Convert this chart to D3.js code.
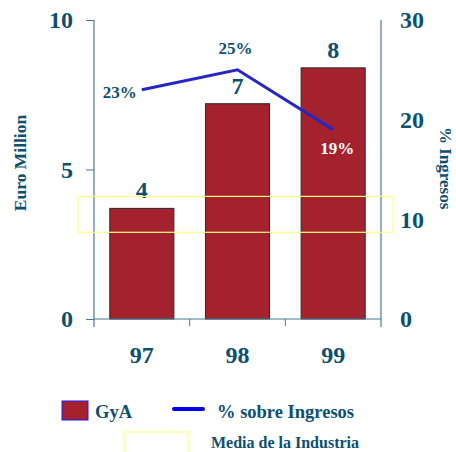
<!DOCTYPE html>
<html>
<head>
<meta charset="utf-8">
<script src="https://d3js.org/d3.v7.min.js"></script>
<style>
  body { margin: 0; background: #fff; }
  text { font-family: "Liberation Serif", "Times New Roman", serif; font-weight: bold; fill: #0d4f6f; }
</style>
</head>
<body>
<svg id="chart" width="456" height="452"></svg>
<script>
// data
var years = ["97", "98", "99"];
var gya = [3.7, 7.2, 8.4];            // Euro Million (bars)
var gyaLabels = ["4", "7", "8"];
var pctIngresos = [23, 25, 19];       // % sobre Ingresos (line)
var leftTicks = [0, 5, 10];
var rightTicks = [0, 10, 20, 30];
var industryBand = [8.7, 12.3];       // Media de la Industria, % range

var axisColor = "#4a7b94",
    barColor = "#a3222e",
    lineColor = "#2626c4",
    textColor = "#0d4f6f";

var svg = d3.select("#chart");

var x = d3.scaleBand().domain(years).range([94, 381]).paddingInner(0.33).paddingOuter(0.165),
    yL = d3.scaleLinear().domain([0, 10]).range([319, 20]),
    yR = d3.scaleLinear().domain([0, 30]).range([319, 20]);

// bars
svg.selectAll(".bar")
  .data(gya)
  .enter().append("rect")
    .attr("class", "bar")
    .attr("x", function(d, i) { return x(years[i]); })
    .attr("y", function(d) { return yL(d); })
    .attr("width", x.bandwidth())
    .attr("height", function(d) { return yL(0) - yL(d); })
    .attr("fill", barColor)
    .attr("stroke", "#2a2a2a")
    .attr("stroke-width", 1);

// bar value labels
svg.selectAll(".barlabel")
  .data(gya)
  .enter().append("text")
    .attr("x", function(d, i) { return x(years[i]) + x.bandwidth() / 2; })
    .attr("y", function(d) { return yL(d) - 10; })
    .attr("text-anchor", "middle")
    .style("font-size", "24px")
    .text(function(d, i) { return gyaLabels[i]; });

// left axis
var leftAxis = svg.append("g")
    .attr("transform", "translate(94,0)")
    .call(d3.axisLeft(yL).tickValues(leftTicks).tickSize(8).tickPadding(13));
leftAxis.select(".domain").remove();
leftAxis.selectAll(".tick line").attr("stroke", axisColor);
leftAxis.selectAll(".tick text")
    .attr("fill", textColor)
    .style("font-family", "'Liberation Serif', serif")
    .style("font-weight", "bold")
    .style("font-size", "24px");

// right axis
var rightAxis = svg.append("g")
    .attr("transform", "translate(381,0)")
    .call(d3.axisRight(yR).tickValues(rightTicks).tickSize(0).tickPadding(19));
rightAxis.select(".domain").remove();
rightAxis.selectAll(".tick text")
    .attr("fill", textColor)
    .style("font-family", "'Liberation Serif', serif")
    .style("font-weight", "bold")
    .style("font-size", "24px");

// axis lines
svg.append("line").attr("x1", 94).attr("x2", 94).attr("y1", yL(10)).attr("y2", yL(0) + 8)
    .attr("stroke", axisColor).attr("stroke-width", 1.2);
svg.append("line").attr("x1", 381).attr("x2", 381).attr("y1", yR(30)).attr("y2", yR(0) + 8)
    .attr("stroke", axisColor).attr("stroke-width", 1.2);
svg.append("line").attr("x1", 94).attr("x2", 381).attr("y1", yL(0)).attr("y2", yL(0))
    .attr("stroke", axisColor).attr("stroke-width", 1.2);

// category separators below the baseline
svg.selectAll(".xtick")
  .data(years.slice(1))
  .enter().append("line")
    .attr("x1", function(d) { return x(d) - x.step() * x.paddingInner() / 2; })
    .attr("x2", function(d) { return x(d) - x.step() * x.paddingInner() / 2; })
    .attr("y1", yL(0))
    .attr("y2", yL(0) + 7)
    .attr("stroke", axisColor);

// x labels
svg.selectAll(".xlabel")
  .data(years)
  .enter().append("text")
    .attr("x", function(d) { return x(d) + x.bandwidth() / 2; })
    .attr("y", 363)
    .attr("text-anchor", "middle")
    .style("font-size", "24px")
    .text(function(d) { return d; });

// industry average band
svg.append("rect")
    .attr("x", 78)
    .attr("y", yR(industryBand[1]))
    .attr("width", 315)
    .attr("height", yR(industryBand[0]) - yR(industryBand[1]))
    .attr("fill", "none")
    .attr("stroke", "#ffff88")
    .attr("stroke-width", 1.2);

// % line
var line = d3.line()
    .x(function(d, i) { return x(years[i]) + x.bandwidth() / 2; })
    .y(function(d) { return yR(d); });

svg.append("path")
    .datum(pctIngresos)
    .attr("d", line)
    .attr("fill", "none")
    .attr("stroke", lineColor)
    .attr("stroke-width", 3);

// % labels: left of first point, above second, below third (white on the bar)
var placement = [
  { dx: -5, dy: 8, anchor: "end", fill: textColor },
  { dx: -2, dy: -16, anchor: "middle", fill: textColor },
  { dx: 4, dy: 24, anchor: "middle", fill: "#ffffff" }
];
svg.selectAll(".pctlabel")
  .data(pctIngresos)
  .enter().append("text")
    .attr("x", function(d, i) { return x(years[i]) + x.bandwidth() / 2 + placement[i].dx; })
    .attr("y", function(d, i) { return yR(d) + placement[i].dy; })
    .attr("text-anchor", function(d, i) { return placement[i].anchor; })
    .style("font-size", "17px")
    .style("fill", function(d, i) { return placement[i].fill; })
    .text(function(d) { return d + "%"; });

// axis titles
svg.append("text")
    .attr("transform", "translate(26,163) rotate(-90)")
    .attr("text-anchor", "middle")
    .style("font-size", "17.5px")
    .text("Euro Million");

svg.append("text")
    .attr("transform", "translate(440,127) rotate(90)")
    .attr("text-anchor", "start")
    .style("font-size", "17px")
    .text("% Ingresos");

// legend
svg.append("rect")
    .attr("x", 62).attr("y", 401).attr("width", 26).attr("height", 19)
    .attr("fill", barColor).attr("stroke", "#1a1aff").attr("stroke-width", 1);
svg.append("text").attr("x", 95).attr("y", 418).style("font-size", "18.5px").text("GyA");

svg.append("line")
    .attr("x1", 174).attr("x2", 203).attr("y1", 409).attr("y2", 409)
    .attr("stroke", "#0000ee").attr("stroke-width", 4).attr("stroke-linecap", "round");
svg.append("text").attr("x", 217).attr("y", 418).style("font-size", "18.5px").text("% sobre Ingresos");

svg.append("rect")
    .attr("x", 124).attr("y", 432).attr("width", 64).attr("height", 30)
    .attr("fill", "none").attr("stroke", "#ffff88").attr("stroke-width", 1.2);
svg.append("text").attr("x", 211).attr("y", 448).style("font-size", "16px").text("Media de la Industria");
</script>
</body>
</html>
